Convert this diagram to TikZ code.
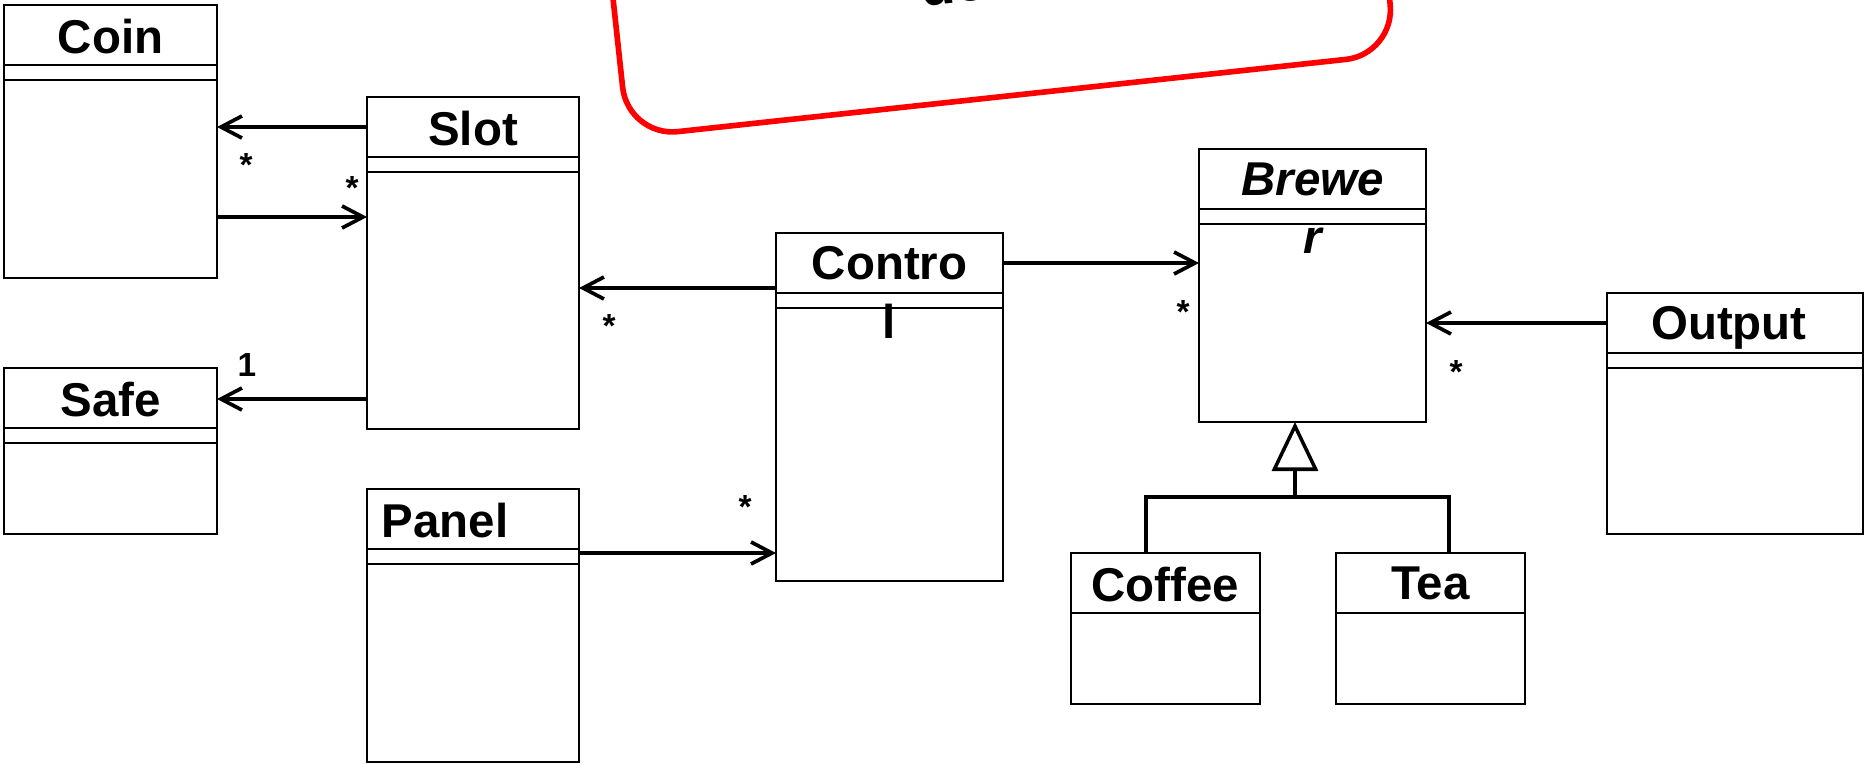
\documentclass[tikz,border=0pt]{standalone}
\usepackage{fontspec}
\setmainfont{Liberation Sans}
\usetikzlibrary{arrows.meta,positioning}
\newcommand{\titlefont}{\bfseries\fontsize{13.5}{16.6}\selectfont}

\begin{document}
\begin{tikzpicture}[
		cls/.style={draw, rectangle, line width=0.65pt, outer sep=0pt, inner sep=0pt, anchor=north west},
		title/.style={anchor=north, inner sep=0pt, align=center, font=\titlefont},
		sep/.style={line width=0.65pt},
		assoc/.style={line width=1.05pt, -{Straight Barb[length=2.1mm,width=2.2mm]}},
		mult/.style={inner sep=0pt, font=\bfseries\fontsize{9.5}{11}\selectfont},
		inherit/.style={line width=1pt},
		note/.style={draw=red, line width=1.6pt, rounded corners=5mm, rotate=6.17, anchor=south west, outer sep=0pt}
		]
		\useasboundingbox (0,0) rectangle (18.64,7.64);
		\clip (0,0) rectangle (18.64,7.64);
		
		% note
		\node[note, minimum width=7.72cm, minimum height=2cm] (note) at (6.28,6.27) {};
		\node[rotate=6.17, anchor=base, inner sep=0pt, font=\bfseries\fontsize{16}{19}\selectfont] (notetext) at (9.55,7.61) {de};
		
		% classes
		\node[cls, minimum width=2.13cm, minimum height=2.73cm] (coin) at (0.04,7.59) {};
		\node[cls, minimum width=2.12cm, minimum height=3.32cm] (slot) at (3.67,6.67) {};
		\node[cls, minimum width=2.13cm, minimum height=1.66cm] (safe) at (0.04,3.96) {};
		\node[cls, minimum width=2.12cm, minimum height=2.73cm] (panel) at (3.67,2.75) {};
		\node[cls, minimum width=2.27cm, minimum height=3.48cm] (contro) at (7.76,5.31) {};
		\node[cls, minimum width=2.27cm, minimum height=2.73cm] (brewe) at (11.99,6.15) {};
		\node[cls, minimum width=2.56cm, minimum height=2.41cm] (output) at (16.07,4.71) {};
		\node[cls, minimum width=1.89cm, minimum height=1.51cm] (coffee) at (10.71,2.11) {};
		\node[cls, minimum width=1.89cm, minimum height=1.51cm] (tea) at (13.36,2.11) {};
		
		\node[title] (coin-t) at ([yshift=-1.3mm]coin.north) {Coin};
		\node[title] (slot-t) at ([yshift=-1.3mm]slot.north) {Slot};
		\node[title] (safe-t) at ([yshift=-1.3mm]safe.north) {Safe};
		\node[title, anchor=north west] (panel-t) at ([xshift=1.4mm,yshift=-1.3mm]panel.north west) {Panel};
		\node[title] (contro-t) at ([yshift=-1.3mm]contro.north) {Contro\\l};
		\node[title, font=\titlefont\itshape] (brewe-t) at ([yshift=-1.3mm]brewe.north) {Brewe\\r};
		\node[title] (output-t) at ([xshift=-0.6mm,yshift=-1.3mm]output.north) {Output};
		\node[title] (coffee-t) at ([yshift=-1.3mm]coffee.north) {Coffee};
		\node[title] (tea-t) at ([yshift=-1.3mm]tea.north) {Tea};
		
		% compartments
		\foreach \c in {coin,slot,safe,panel,contro,brewe,output}{
			\draw[sep] ([yshift=-6mm]\c.north west) -- ([yshift=-6mm]\c.north east);
			\draw[sep] ([yshift=-7.5mm]\c.north west) -- ([yshift=-7.5mm]\c.north east);
		}
		\foreach \c in {coffee,tea}
			\draw[sep] ([yshift=-6mm]\c.north west) -- ([yshift=-6mm]\c.north east);
		
		% associations
		\coordinate (a1) at ([yshift=-3mm]slot.north west);
		\draw[assoc] (a1) -- (a1 -| coin.east);
		\coordinate (a2) at ([yshift=-12mm]slot.north west);
		\draw[assoc] (a2 -| coin.east) -- (a2);
		\coordinate (a3) at ([yshift=-3.1mm]safe.north east);
		\draw[assoc] (a3 -| slot.west) -- (a3);
		\coordinate (a4) at ([yshift=-5.5mm]contro.north west);
		\draw[assoc] (a4) -- (a4 -| slot.east);
		\coordinate (a5) at ([yshift=-6.4mm]panel.north east);
		\draw[assoc] (a5) -- (a5 -| contro.west);
		\coordinate (a6) at ([yshift=-3mm]contro.north east);
		\draw[assoc] (a6) -- (a6 -| brewe.west);
		\coordinate (a7) at ([yshift=-3mm]output.north west);
		\draw[assoc] (a7) -- (a7 -| brewe.east);
		
		\node[mult] (m1) at (2.46,5.99) {*};
		\node[mult] (m2) at (3.52,5.76) {*};
		\node[mult] (m3) at (2.47,3.99) {1};
		\node[mult] (m4) at (6.09,4.38) {*};
		\node[mult] (m5) at (7.45,2.57) {*};
		\node[mult] (m6) at (11.83,4.52) {*};
		\node[mult] (m7) at (14.56,3.92) {*};
		
		% generalization
		\coordinate (gen) at (12.95,2.67);
		\draw[inherit, -{Triangle[open, length=4.9mm, width=4.6mm]}] (gen) -- (gen |- brewe.south);
		\draw[inherit] ([xshift=-1.95mm]coffee.north) |- (gen) -| ([xshift=1.85mm]tea.north);
	\end{tikzpicture}
\end{document}
